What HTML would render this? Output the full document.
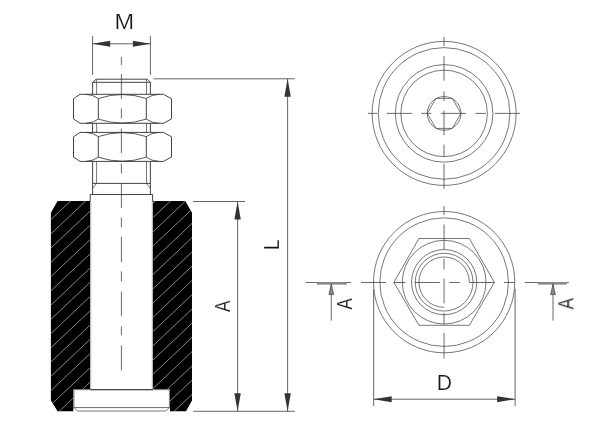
<!DOCTYPE html>
<html><head><meta charset="utf-8"><title>Drawing</title>
<style>html,body{margin:0;padding:0;background:#fff;}svg{display:block;}</style></head>
<body>
<svg width="600" height="423" viewBox="0 0 600 423">
<rect width="600" height="423" fill="#fff"/>
<g id="rubber">
<clipPath id="cl"><path d="M57.6,201.0 L90.2,201.0 L90.2,389.3 L73.3,389.3 L73.3,411.3 L57.6,411.3 L50.9,400.5 L50.9,212.8 Z"/></clipPath><clipPath id="cr"><path d="M185.3,201.0 L152.8,201.0 L152.8,389.3 L170.0,389.3 L170.0,411.3 L186.0,411.3 L192.0,400.5 L192.0,212.8 Z"/></clipPath>
<path d="M57.6,201.0 L90.2,201.0 L90.2,389.3 L73.3,389.3 L73.3,411.3 L57.6,411.3 L50.9,400.5 L50.9,212.8 Z" fill="#000"/><path d="M185.3,201.0 L152.8,201.0 L152.8,389.3 L170.0,389.3 L170.0,411.3 L186.0,411.3 L192.0,400.5 L192.0,212.8 Z" fill="#000"/>
<g clip-path="url(#cl)">
<line x1="40" y1="201.38400000000001" x2="100" y2="144.744" stroke="#858585" stroke-width="1.0" />
<line x1="40" y1="215.63400000000001" x2="100" y2="158.994" stroke="#858585" stroke-width="1.0" />
<line x1="40" y1="229.88400000000001" x2="100" y2="173.244" stroke="#858585" stroke-width="1.0" />
<line x1="40" y1="244.13400000000001" x2="100" y2="187.494" stroke="#858585" stroke-width="1.0" />
<line x1="40" y1="258.384" x2="100" y2="201.744" stroke="#858585" stroke-width="1.0" />
<line x1="40" y1="272.634" x2="100" y2="215.994" stroke="#858585" stroke-width="1.0" />
<line x1="40" y1="286.884" x2="100" y2="230.244" stroke="#858585" stroke-width="1.0" />
<line x1="40" y1="301.134" x2="100" y2="244.494" stroke="#858585" stroke-width="1.0" />
<line x1="40" y1="315.384" x2="100" y2="258.744" stroke="#858585" stroke-width="1.0" />
<line x1="40" y1="329.634" x2="100" y2="272.994" stroke="#858585" stroke-width="1.0" />
<line x1="40" y1="343.884" x2="100" y2="287.244" stroke="#858585" stroke-width="1.0" />
<line x1="40" y1="358.134" x2="100" y2="301.494" stroke="#858585" stroke-width="1.0" />
<line x1="40" y1="372.384" x2="100" y2="315.744" stroke="#858585" stroke-width="1.0" />
<line x1="40" y1="386.634" x2="100" y2="329.994" stroke="#858585" stroke-width="1.0" />
<line x1="40" y1="400.884" x2="100" y2="344.244" stroke="#858585" stroke-width="1.0" />
<line x1="40" y1="415.134" x2="100" y2="358.494" stroke="#858585" stroke-width="1.0" />
<line x1="40" y1="429.384" x2="100" y2="372.744" stroke="#858585" stroke-width="1.0" />
<line x1="40" y1="443.634" x2="100" y2="386.994" stroke="#858585" stroke-width="1.0" />
</g><g clip-path="url(#cr)">
<line x1="145" y1="196.58" x2="200" y2="144.66" stroke="#858585" stroke-width="1.0" />
<line x1="145" y1="210.83" x2="200" y2="158.91" stroke="#858585" stroke-width="1.0" />
<line x1="145" y1="225.08" x2="200" y2="173.16" stroke="#858585" stroke-width="1.0" />
<line x1="145" y1="239.33" x2="200" y2="187.41" stroke="#858585" stroke-width="1.0" />
<line x1="145" y1="253.58" x2="200" y2="201.66" stroke="#858585" stroke-width="1.0" />
<line x1="145" y1="267.83" x2="200" y2="215.91" stroke="#858585" stroke-width="1.0" />
<line x1="145" y1="282.08" x2="200" y2="230.16" stroke="#858585" stroke-width="1.0" />
<line x1="145" y1="296.33" x2="200" y2="244.41" stroke="#858585" stroke-width="1.0" />
<line x1="145" y1="310.58" x2="200" y2="258.66" stroke="#858585" stroke-width="1.0" />
<line x1="145" y1="324.83" x2="200" y2="272.91" stroke="#858585" stroke-width="1.0" />
<line x1="145" y1="339.08" x2="200" y2="287.16" stroke="#858585" stroke-width="1.0" />
<line x1="145" y1="353.33" x2="200" y2="301.41" stroke="#858585" stroke-width="1.0" />
<line x1="145" y1="367.58" x2="200" y2="315.66" stroke="#858585" stroke-width="1.0" />
<line x1="145" y1="381.83" x2="200" y2="329.91" stroke="#858585" stroke-width="1.0" />
<line x1="145" y1="396.08" x2="200" y2="344.16" stroke="#858585" stroke-width="1.0" />
<line x1="145" y1="410.33" x2="200" y2="358.41" stroke="#858585" stroke-width="1.0" />
<line x1="145" y1="424.58" x2="200" y2="372.66" stroke="#858585" stroke-width="1.0" />
<line x1="145" y1="438.83" x2="200" y2="386.91" stroke="#858585" stroke-width="1.0" />
</g></g>
<g id="bolt">
<path d="M92.6,194.5 L92.6,82.3 L96.19999999999999,79.2 L147.4,79.2 L150.4,82.3 L150.4,194.5" stroke="#2e2e2e" stroke-width="0.9" fill="none" />
<line x1="92.6" y1="82.3" x2="150.4" y2="82.3" stroke="#2e2e2e" stroke-width="0.9" />
<line x1="96.6" y1="79.2" x2="96.6" y2="183.4" stroke="#555" stroke-width="0.8" />
<line x1="146.5" y1="79.2" x2="146.5" y2="183.4" stroke="#555" stroke-width="0.8" />
<line x1="92.6" y1="183.4" x2="150.4" y2="183.4" stroke="#2e2e2e" stroke-width="0.9" />
<line x1="96.6" y1="183.4" x2="92.6" y2="188.3" stroke="#2e2e2e" stroke-width="0.7" />
<line x1="146.5" y1="183.4" x2="150.4" y2="188.3" stroke="#2e2e2e" stroke-width="0.7" />
<path d="M90.2,201.3 L90.2,194.5 L152.60000000000002,194.5 L152.60000000000002,201.3" stroke="#2e2e2e" stroke-width="0.9" fill="none" />
<line x1="90.8" y1="201.0" x2="90.8" y2="389.3" stroke="#999" stroke-width="0.5" />
<line x1="152.20000000000002" y1="201.0" x2="152.20000000000002" y2="389.3" stroke="#999" stroke-width="0.5" />
<path d="M73.89999999999999,389.7 L169.4,389.7 L169.4,407.6 L165.8,411.0 L77.5,411.0 L73.89999999999999,407.6 Z" stroke="#555" stroke-width="0.8" fill="#fff" />
<line x1="73.89999999999999" y1="407.6" x2="169.4" y2="407.6" stroke="#444" stroke-width="0.8" />
<line x1="90.2" y1="389.7" x2="152.8" y2="389.7" stroke="#2e2e2e" stroke-width="0.9" />
</g>
<g>
<path d="M80.0,94.3 L163.5,94.3 L171.5,98.7 L171.5,118.89999999999999 L163.5,123.3 L80.0,123.3 L73.5,118.89999999999999 L73.5,98.7 Z" stroke="#2e2e2e" stroke-width="0.9" fill="#fff" />
<line x1="98.3" y1="98.5" x2="98.3" y2="119.1" stroke="#2e2e2e" stroke-width="0.9" />
<line x1="146.3" y1="98.5" x2="146.3" y2="119.1" stroke="#2e2e2e" stroke-width="0.9" />
<path d="M98.3,98.5 Q122.30000000000001,90.49999999999999 146.3,98.5" stroke="#2e2e2e" stroke-width="0.8" fill="none" />
<path d="M98.3,119.1 Q122.30000000000001,127.10000000000001 146.3,119.1" stroke="#2e2e2e" stroke-width="0.8" fill="none" />
<path d="M85.9,94.3 Q93.1,94.6 98.3,98.5" stroke="#2e2e2e" stroke-width="0.8" fill="none" />
<path d="M85.9,123.3 Q93.1,123.0 98.3,119.1" stroke="#2e2e2e" stroke-width="0.8" fill="none" />
<path d="M158.9,94.3 Q151.60000000000002,94.6 146.3,98.5" stroke="#2e2e2e" stroke-width="0.8" fill="none" />
<path d="M158.9,123.3 Q151.60000000000002,123.0 146.3,119.1" stroke="#2e2e2e" stroke-width="0.8" fill="none" />
</g>
<g>
<path d="M80.0,132.4 L163.5,132.4 L171.5,136.8 L171.5,157.0 L163.5,161.4 L80.0,161.4 L73.5,157.0 L73.5,136.8 Z" stroke="#2e2e2e" stroke-width="0.9" fill="#fff" />
<line x1="98.3" y1="136.60000000000002" x2="98.3" y2="157.2" stroke="#2e2e2e" stroke-width="0.9" />
<line x1="146.3" y1="136.60000000000002" x2="146.3" y2="157.2" stroke="#2e2e2e" stroke-width="0.9" />
<path d="M98.3,136.60000000000002 Q122.30000000000001,128.6 146.3,136.60000000000002" stroke="#2e2e2e" stroke-width="0.8" fill="none" />
<path d="M98.3,157.2 Q122.30000000000001,165.20000000000002 146.3,157.2" stroke="#2e2e2e" stroke-width="0.8" fill="none" />
<path d="M85.9,132.4 Q93.1,132.70000000000002 98.3,136.60000000000002" stroke="#2e2e2e" stroke-width="0.8" fill="none" />
<path d="M85.9,161.4 Q93.1,161.1 98.3,157.2" stroke="#2e2e2e" stroke-width="0.8" fill="none" />
<path d="M158.9,132.4 Q151.60000000000002,132.70000000000002 146.3,136.60000000000002" stroke="#2e2e2e" stroke-width="0.8" fill="none" />
<path d="M158.9,161.4 Q151.60000000000002,161.1 146.3,157.2" stroke="#2e2e2e" stroke-width="0.8" fill="none" />
</g>
<line x1="121.4" y1="57" x2="121.4" y2="65" stroke="#444" stroke-width="0.8" />
<line x1="121.4" y1="74" x2="121.4" y2="98.8" stroke="#444" stroke-width="0.8" />
<line x1="121.4" y1="108.5" x2="121.4" y2="118.5" stroke="#444" stroke-width="0.8" />
<line x1="121.4" y1="128.5" x2="121.4" y2="153" stroke="#444" stroke-width="0.8" />
<line x1="121.4" y1="163.5" x2="121.4" y2="173.5" stroke="#444" stroke-width="0.8" />
<line x1="121.4" y1="183" x2="121.4" y2="208" stroke="#444" stroke-width="0.8" />
<line x1="121.4" y1="217.5" x2="121.4" y2="227.2" stroke="#444" stroke-width="0.8" />
<line x1="121.4" y1="236.8" x2="121.4" y2="262.3" stroke="#444" stroke-width="0.8" />
<line x1="121.4" y1="271.4" x2="121.4" y2="281.4" stroke="#444" stroke-width="0.8" />
<line x1="121.4" y1="291.5" x2="121.4" y2="316.2" stroke="#444" stroke-width="0.8" />
<line x1="121.4" y1="326.3" x2="121.4" y2="335.3" stroke="#444" stroke-width="0.8" />
<line x1="121.4" y1="345.4" x2="121.4" y2="370.4" stroke="#444" stroke-width="0.8" />
<line x1="92.6" y1="36" x2="92.6" y2="75" stroke="#555" stroke-width="0.9" />
<line x1="150.4" y1="36" x2="150.4" y2="75" stroke="#555" stroke-width="0.9" />
<line x1="92.6" y1="43.8" x2="150.4" y2="43.8" stroke="#555" stroke-width="0.9" />
<polygon points="92.6,43.8 110.10,40.80 110.10,46.80" fill="#333"/>
<polygon points="150.4,43.8 132.90,46.80 132.90,40.80" fill="#333"/>
<line x1="153.5" y1="78.8" x2="294.8" y2="78.8" stroke="#555" stroke-width="0.9" />
<line x1="193.2" y1="411.3" x2="294.8" y2="411.3" stroke="#555" stroke-width="0.9" />
<line x1="287.6" y1="78.8" x2="287.6" y2="411.3" stroke="#555" stroke-width="0.9" />
<polygon points="287.6,78.8 290.80,96.80 284.40,96.80" fill="#333"/>
<polygon points="287.6,411.3 284.40,393.30 290.80,393.30" fill="#333"/>
<line x1="193" y1="201.5" x2="245" y2="201.5" stroke="#555" stroke-width="0.9" />
<line x1="237.6" y1="201.5" x2="237.6" y2="411.3" stroke="#555" stroke-width="0.9" />
<polygon points="237.6,201.5 240.80,219.50 234.40,219.50" fill="#333"/>
<polygon points="237.6,411.3 234.40,393.30 240.80,393.30" fill="#333"/>
<circle cx="444.1" cy="113.4" r="72.0" stroke="#4a4a4a" stroke-width="0.75" fill="none"/>
<circle cx="444.1" cy="113.4" r="65.8" stroke="#4a4a4a" stroke-width="0.75" fill="none"/>
<circle cx="444.1" cy="113.4" r="48.8" stroke="#4a4a4a" stroke-width="0.75" fill="none"/>
<circle cx="444.1" cy="113.4" r="43.25" stroke="#4a4a4a" stroke-width="0.75" fill="none"/>
<circle cx="444.1" cy="113.4" r="16.85" stroke="#4a4a4a" stroke-width="0.75" fill="none"/>
<polygon points="460.90,113.40 452.30,128.40 435.90,128.40 427.30,113.40 435.90,98.40 452.30,98.40" fill="none" stroke="#4a4a4a" stroke-width="0.75"/>
<line x1="367.9" y1="113.4" x2="377.4" y2="113.4" stroke="#444" stroke-width="0.8" />
<line x1="387" y1="113.4" x2="412" y2="113.4" stroke="#444" stroke-width="0.8" />
<line x1="421.2" y1="113.4" x2="431.2" y2="113.4" stroke="#444" stroke-width="0.8" />
<line x1="441" y1="113.4" x2="466" y2="113.4" stroke="#444" stroke-width="0.8" />
<line x1="475.5" y1="113.4" x2="485.9" y2="113.4" stroke="#444" stroke-width="0.8" />
<line x1="495" y1="113.4" x2="520" y2="113.4" stroke="#444" stroke-width="0.8" />
<line x1="444.0" y1="37" x2="444.0" y2="46.1" stroke="#444" stroke-width="0.8" />
<line x1="444.0" y1="56.1" x2="444.0" y2="80.7" stroke="#444" stroke-width="0.8" />
<line x1="444.0" y1="91.3" x2="444.0" y2="100.8" stroke="#444" stroke-width="0.8" />
<line x1="444.0" y1="110.6" x2="444.0" y2="135.1" stroke="#444" stroke-width="0.8" />
<line x1="444.0" y1="144.6" x2="444.0" y2="156.2" stroke="#444" stroke-width="0.8" />
<line x1="444.0" y1="163.9" x2="444.0" y2="189" stroke="#444" stroke-width="0.8" />
<circle cx="444.15" cy="282.15" r="70.65" stroke="#4a4a4a" stroke-width="0.75" fill="none"/>
<circle cx="444.15" cy="282.15" r="64.3" stroke="#4a4a4a" stroke-width="0.75" fill="none"/>
<circle cx="444.15" cy="282.15" r="41.85" stroke="#4a4a4a" stroke-width="0.75" fill="none"/>
<circle cx="444.15" cy="282.15" r="32.6" stroke="#4a4a4a" stroke-width="0.75" fill="none"/>
<circle cx="444.15" cy="282.15" r="28.9" stroke="#4a4a4a" stroke-width="0.75" fill="none"/>
<path d="M469.34999999999997,282.15 A25.2,25.2 0 1 0 444.15,307.34999999999997" stroke="#4a4a4a" stroke-width="0.75" fill="none" />
<polygon points="494.40,282.35 469.35,325.30 418.95,325.30 393.90,282.35 418.95,238.50 469.35,238.50" fill="none" stroke="#4a4a4a" stroke-width="0.75"/>
<line x1="305.6" y1="282.5" x2="351" y2="282.5" stroke="#444" stroke-width="0.8" />
<line x1="361" y1="282.5" x2="385.8" y2="282.5" stroke="#444" stroke-width="0.8" />
<line x1="393.8" y1="282.5" x2="405.6" y2="282.5" stroke="#444" stroke-width="0.8" />
<line x1="414.7" y1="282.5" x2="439.8" y2="282.5" stroke="#444" stroke-width="0.8" />
<line x1="449.3" y1="282.5" x2="459.8" y2="282.5" stroke="#444" stroke-width="0.8" />
<line x1="469.3" y1="282.5" x2="494.5" y2="282.5" stroke="#444" stroke-width="0.8" />
<line x1="504" y1="282.5" x2="515" y2="282.5" stroke="#444" stroke-width="0.8" />
<line x1="524.8" y1="282.5" x2="568.8" y2="282.5" stroke="#444" stroke-width="0.8" />
<line x1="444.04999999999995" y1="206" x2="444.04999999999995" y2="215" stroke="#444" stroke-width="0.8" />
<line x1="444.04999999999995" y1="224.5" x2="444.04999999999995" y2="249.3" stroke="#444" stroke-width="0.8" />
<line x1="444.04999999999995" y1="258.7" x2="444.04999999999995" y2="269.3" stroke="#444" stroke-width="0.8" />
<line x1="444.04999999999995" y1="278.5" x2="444.04999999999995" y2="303.3" stroke="#444" stroke-width="0.8" />
<line x1="444.04999999999995" y1="313" x2="444.04999999999995" y2="324.1" stroke="#444" stroke-width="0.8" />
<line x1="444.04999999999995" y1="333" x2="444.04999999999995" y2="358.5" stroke="#444" stroke-width="0.8" />
<rect x="317" y="282.0" width="29.8" height="2.6" fill="#888"/>
<rect x="538" y="282.0" width="28.7" height="2.6" fill="#888"/>
<line x1="331.3" y1="284" x2="331.3" y2="320.6" stroke="#555" stroke-width="0.9" />
<line x1="553" y1="284" x2="553" y2="320.6" stroke="#555" stroke-width="0.9" />
<polygon points="331.3,284.2 333.7,294.6 328.90000000000003,294.6" fill="#8a8a8a" stroke="#333" stroke-width="0.6"/>
<polygon points="553,284.2 555.4,294.6 550.6,294.6" fill="#8a8a8a" stroke="#333" stroke-width="0.6"/>
<line x1="373.7" y1="289" x2="373.7" y2="406" stroke="#555" stroke-width="0.9" />
<line x1="515.1" y1="289" x2="515.1" y2="406" stroke="#555" stroke-width="0.9" />
<line x1="373.7" y1="399.2" x2="515.1" y2="399.2" stroke="#555" stroke-width="0.9" />
<polygon points="373.7,399.2 391.70,396.20 391.70,402.20" fill="#333"/>
<polygon points="515.1,399.2 497.10,402.20 497.10,396.20" fill="#333"/>
<g opacity="0.999">
<text transform="translate(116.4,28.8) scale(1.093,1)" x="-1.76" y="0" font-family="Liberation Sans, sans-serif" font-size="21.5" fill="#161616" stroke="#fff" stroke-width="0.2">M</text>
<text transform="translate(438.5,389.6) scale(0.984,1)" x="-1.76" y="0" font-family="Liberation Sans, sans-serif" font-size="21.5" fill="#161616" stroke="#fff" stroke-width="0.2">D</text>
<text transform="translate(278.7,248.6) rotate(-90) scale(0.867,1)" x="-1.76" y="0" font-family="Liberation Sans, sans-serif" font-size="21.5" fill="#161616" stroke="#fff" stroke-width="0.2">L</text>
<text transform="translate(229.5,312.0) rotate(-90) scale(0.801,1)" x="-0.04" y="0" font-family="Liberation Sans, sans-serif" font-size="21.5" fill="#161616" stroke="#fff" stroke-width="0.2">A</text>
<text transform="translate(352.0,309.4) rotate(-90) scale(0.780,1)" x="-0.04" y="0" font-family="Liberation Sans, sans-serif" font-size="21.5" fill="#161616" stroke="#fff" stroke-width="0.2">A</text>
<text transform="translate(573.4,309.4) rotate(-90) scale(0.794,1)" x="-0.04" y="0" font-family="Liberation Sans, sans-serif" font-size="21.5" fill="#161616" stroke="#fff" stroke-width="0.2">A</text>
</g>
</svg>
</body></html>
